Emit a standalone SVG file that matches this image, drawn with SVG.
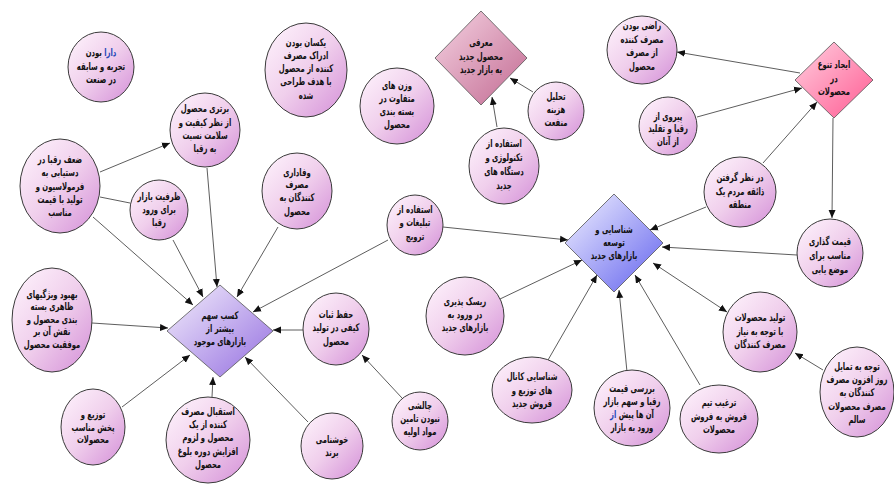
<svg xmlns="http://www.w3.org/2000/svg" width="894" height="484" viewBox="0 0 894 484">
<defs>
<linearGradient id="gc" x1="0" y1="0" x2="1" y2="1">
<stop offset="0" stop-color="#fff5fd"/><stop offset="0.5" stop-color="#f0cfec"/><stop offset="1" stop-color="#d48fd8"/>
</linearGradient>
<linearGradient id="gd5" x1="0" y1="0" x2="1" y2="1">
<stop offset="0" stop-color="#f5d3e2"/><stop offset="1" stop-color="#c26a92"/>
</linearGradient>
<linearGradient id="gd9" x1="0" y1="0" x2="1" y2="1">
<stop offset="0" stop-color="#ffd0e0"/><stop offset="1" stop-color="#ff5a92"/>
</linearGradient>
<linearGradient id="gd13" x1="0" y1="0" x2="1" y2="1">
<stop offset="0" stop-color="#f2f2ff"/><stop offset="1" stop-color="#6262ee"/>
</linearGradient>
<linearGradient id="gd30" x1="0" y1="0" x2="1" y2="1">
<stop offset="0" stop-color="#f4effc"/><stop offset="1" stop-color="#946ee0"/>
</linearGradient>
<marker id="ah" markerUnits="userSpaceOnUse" markerWidth="9" markerHeight="8" refX="8" refY="4" orient="auto-start-reverse">
<path d="M0,0.5 L8,4 L0,7.5 Z" fill="#111"/>
</marker>
</defs>
<style>
.n ellipse{stroke:#3a3a3a;stroke-width:1;fill:url(#gc)}
.d polygon{stroke:#555;stroke-width:0.8}
text{font-family:"DejaVu Sans",sans-serif;font-size:10.5px;font-weight:bold;fill:#111;text-anchor:middle;direction:rtl}
.c line{stroke:#333;stroke-width:0.8;marker-end:url(#ah)}
.c line.plain{marker-end:none}
.c line.both{marker-start:url(#ah)}
.bl{fill:#2848b8}
</style>
<rect width="894" height="484" fill="#fff"/>
<g id="connectors" class="c">
<line x1="93" y1="217" x2="193" y2="305"/>
<line x1="100" y1="172" x2="170" y2="143"/>
<line class="plain" x1="100" y1="197" x2="130" y2="203"/>
<line x1="173" y1="240" x2="203" y2="297"/>
<line x1="207" y1="168" x2="217" y2="287"/>
<line x1="278" y1="227" x2="237" y2="297"/>
<line x1="388" y1="240" x2="253" y2="312"/>
<line x1="443" y1="227" x2="568" y2="240"/>
<line x1="304" y1="330" x2="273" y2="330"/>
<line x1="402" y1="398" x2="362" y2="355"/>
<line x1="308" y1="422" x2="245" y2="357"/>
<line x1="212" y1="397" x2="213" y2="377"/>
<line x1="122" y1="407" x2="190" y2="355"/>
<line x1="92" y1="323" x2="168" y2="328"/>
<line x1="706" y1="207" x2="650" y2="230"/>
<line x1="797" y1="255" x2="662" y2="247"/>
<line class="both" x1="653" y1="263" x2="727" y2="312"/>
<line x1="823" y1="370" x2="795" y2="353"/>
<line x1="700" y1="385" x2="635" y2="275"/>
<line x1="627" y1="372" x2="619" y2="290"/>
<line x1="548" y1="360" x2="597" y2="275"/>
<line x1="500" y1="299" x2="582" y2="260"/>
<line x1="763" y1="163" x2="817" y2="102"/>
<line x1="833" y1="118" x2="832" y2="218"/>
<line x1="697" y1="117" x2="802" y2="88"/>
<line x1="800" y1="73" x2="677" y2="52"/>
<line x1="533" y1="92" x2="510" y2="78"/>
<line x1="497" y1="127" x2="492" y2="97"/>
</g>
<g id="n1" class="n"><ellipse cx="101" cy="67" rx="33" ry="35"/><g transform="matrix(0.65 0 0 1 35.35 0)">
<text x="101" y="56"><tspan class="bl">دارا</tspan> بودن</text><text x="101" y="70">تجربه و سابقه</text><text x="101" y="83">در صنعت</text></g></g>
<g id="n2" class="n"><ellipse cx="205" cy="130" rx="35" ry="37"/><g transform="matrix(0.65 0 0 1 71.75 0)">
<text x="205" y="112">برتری محصول</text><text x="205" y="126">از نظر کیفیت و</text><text x="205" y="139">سلامت نسبت</text><text x="205" y="152">به رقبا</text></g></g>
<g id="n3" class="n"><ellipse cx="306" cy="70" rx="41" ry="47"/><g transform="matrix(0.65 0 0 1 107.1 0)">
<text x="306" y="46">یکسان بودن</text><text x="306" y="59">ادراک مصرف</text><text x="306" y="72">کننده از محصول</text><text x="306" y="85">با هدف طراحی</text><text x="306" y="99">شده</text></g></g>
<g id="n4" class="n"><ellipse cx="397" cy="106" rx="37" ry="38"/><g transform="matrix(0.65 0 0 1 138.95 0)">
<text x="397" y="89">وزن های</text><text x="397" y="102">متفاوت در</text><text x="397" y="115">بسته بندی</text><text x="397" y="128">محصول</text></g></g>
<g id="n5" class="d"><polygon points="481,11 527,58 481,105 435,58" fill="url(#gd5)"/><g transform="matrix(0.65 0 0 1 168.35 0)">
<text x="481" y="46">معرفی</text><text x="481" y="60">محصول جدید</text><text x="481" y="73">به بازار جدید</text></g></g>
<g id="n6" class="n"><ellipse cx="556" cy="111" rx="28" ry="29"/><g transform="matrix(0.65 0 0 1 194.6 0)">
<text x="556" y="100">تحلیل</text><text x="556" y="113">هزینه</text><text x="556" y="126">منفعت</text></g></g>
<g id="n7" class="n"><ellipse cx="504" cy="166" rx="35" ry="38"/><g transform="matrix(0.65 0 0 1 176.4 0)">
<text x="504" y="147">استفاده از</text><text x="504" y="161">تکنولوژی و</text><text x="504" y="175">دستگاه های</text><text x="504" y="189">جدید</text></g></g>
<g id="n8" class="n"><ellipse cx="642" cy="50" rx="35" ry="34"/><g transform="matrix(0.65 0 0 1 224.7 0)">
<text x="642" y="29">راضی بودن</text><text x="642" y="43">مصرف کننده</text><text x="642" y="56">از مصرف</text><text x="642" y="70">محصول</text></g></g>
<g id="n9" class="d"><polygon points="834,42 873,80 834,118 795,80" fill="url(#gd9)"/><g transform="matrix(0.65 0 0 1 291.9 0)">
<text x="834" y="68">ایجاد تنوع</text><text x="834" y="82">در</text><text x="834" y="95">محصولات</text></g></g>
<g id="n10" class="n"><ellipse cx="668" cy="126" rx="29" ry="29"/><g transform="matrix(0.65 0 0 1 233.8 0)">
<text x="668" y="120">پیروی از</text><text x="668" y="132">رقبا و تقلید</text><text x="668" y="145">از آنان</text></g></g>
<g id="n11" class="n"><ellipse cx="740" cy="192" rx="36" ry="35"/><g transform="matrix(0.65 0 0 1 259 0)">
<text x="740" y="181">در نظر گرفتن</text><text x="740" y="195">ذائقه مردم یک</text><text x="740" y="208">منطقه</text></g></g>
<g id="n12" class="n"><ellipse cx="830" cy="253" rx="33" ry="34"/><g transform="matrix(0.65 0 0 1 290.5 0)">
<text x="830" y="245">قیمت گذاری</text><text x="830" y="259">مناسب برای</text><text x="830" y="273">موضع یابی</text></g></g>
<g id="n13" class="d"><polygon points="614,194 663,243 614,292 565,243" fill="url(#gd13)"/><g transform="matrix(0.65 0 0 1 214.9 0)">
<text x="614" y="233">شناسایی و</text><text x="614" y="246">توسعه</text><text x="614" y="259">بازارهای جدید</text></g></g>
<g id="n14" class="n"><ellipse cx="760" cy="332" rx="37" ry="40"/><g transform="matrix(0.65 0 0 1 266 0)">
<text x="760" y="321">تولید محصولات</text><text x="760" y="335">با توجه به نیاز</text><text x="760" y="348">مصرف کنندگان</text></g></g>
<g id="n15" class="n"><ellipse cx="857" cy="392" rx="37" ry="45"/><g transform="matrix(0.65 0 0 1 299.95 0)">
<text x="857" y="370">توجه به تمایل</text><text x="857" y="383">روز افزون مصرف</text><text x="857" y="396">کنندگان به</text><text x="857" y="410">مصرف محصولات</text><text x="857" y="423">سالم</text></g></g>
<g id="n16" class="n"><ellipse cx="719" cy="419" rx="39" ry="34"/><g transform="matrix(0.65 0 0 1 251.65 0)">
<text x="719" y="406">ترغیب تیم</text><text x="719" y="420">فروش به فروش</text><text x="719" y="433">محصولات</text></g></g>
<g id="n17" class="n"><ellipse cx="632" cy="408" rx="38" ry="38"/><g transform="matrix(0.65 0 0 1 221.2 0)">
<text x="632" y="392">بررسی قیمت</text><text x="632" y="405">رقبا و سهم بازار</text><text x="632" y="418">آن ها پیش <tspan class="bl">از</tspan></text><text x="632" y="431">ورود به بازار</text></g></g>
<g id="n18" class="n"><ellipse cx="532" cy="390" rx="40" ry="33"/><g transform="matrix(0.65 0 0 1 186.2 0)">
<text x="532" y="380">شناسایی کانال</text><text x="532" y="394">های توزیع و</text><text x="532" y="407">فروش جدید</text></g></g>
<g id="n19" class="n"><ellipse cx="465" cy="316" rx="39" ry="39"/><g transform="matrix(0.65 0 0 1 162.75 0)">
<text x="465" y="305">ریسک پذیری</text><text x="465" y="318">در ورود به</text><text x="465" y="331">بازارهای جدید</text></g></g>
<g id="n20" class="n"><ellipse cx="415" cy="225" rx="28" ry="30"/><g transform="matrix(0.65 0 0 1 145.25 0)">
<text x="415" y="213">استفاده از</text><text x="415" y="226">تبلیغات و</text><text x="415" y="240">ترویج</text></g></g>
<g id="n21" class="n"><ellipse cx="297" cy="191" rx="35" ry="38"/><g transform="matrix(0.65 0 0 1 103.95 0)">
<text x="297" y="176">وفاداری</text><text x="297" y="188">مصرف</text><text x="297" y="201">کنندگان به</text><text x="297" y="215">محصول</text></g></g>
<g id="n22" class="n"><ellipse cx="336" cy="329" rx="33" ry="36"/><g transform="matrix(0.65 0 0 1 117.6 0)">
<text x="336" y="318">حفظ ثبات</text><text x="336" y="331">کیفی در تولید</text><text x="336" y="345">محصول</text></g></g>
<g id="n23" class="n"><ellipse cx="420" cy="421" rx="28" ry="29"/><g transform="matrix(0.65 0 0 1 147 0)">
<text x="420" y="409">چالشی</text><text x="420" y="422">نبودن تامین</text><text x="420" y="435">مواد اولیه</text></g></g>
<g id="n24" class="n"><ellipse cx="332" cy="446" rx="31" ry="33"/><g transform="matrix(0.65 0 0 1 116.2 0)">
<text x="332" y="443">خوشنامی</text><text x="332" y="456">برند</text></g></g>
<g id="n25" class="n"><ellipse cx="208" cy="440" rx="42" ry="43"/><g transform="matrix(0.65 0 0 1 72.8 0)">
<text x="208" y="415">استقبال مصرف</text><text x="208" y="428">کننده از یک</text><text x="208" y="441">محصول و لزوم</text><text x="208" y="455">افزایش دوره بلوغ</text><text x="208" y="468">محصول</text></g></g>
<g id="n26" class="n"><ellipse cx="93" cy="427" rx="32" ry="38"/><g transform="matrix(0.65 0 0 1 32.55 0)">
<text x="93" y="418">توزیع و</text><text x="93" y="431">پخش مناسب</text><text x="93" y="443">محصولات</text></g></g>
<g id="n27" class="n"><ellipse cx="52" cy="320" rx="40" ry="52"/><g transform="matrix(0.65 0 0 1 18.2 0)">
<text x="52" y="298">بهبود ویژگیهای</text><text x="52" y="310">ظاهری بسته</text><text x="52" y="323">بندی محصول و</text><text x="52" y="335">نقش آن بر</text><text x="52" y="348">موفقیت محصول</text></g></g>
<g id="n28" class="n"><ellipse cx="60" cy="186" rx="40" ry="47"/><g transform="matrix(0.65 0 0 1 21 0)">
<text x="60" y="163">ضعف رقبا در</text><text x="60" y="176">دستیابی به</text><text x="60" y="190">فرمولاسیون و</text><text x="60" y="203">تولید با قیمت</text><text x="60" y="216">مناسب</text></g></g>
<g id="n29" class="n"><ellipse cx="159" cy="210" rx="29" ry="30"/><g transform="matrix(0.65 0 0 1 55.65 0)">
<text x="159" y="200">ظرفیت بازار</text><text x="159" y="213">برای ورود</text><text x="159" y="226">رقبا</text></g></g>
<g id="n30" class="d"><polygon points="220,285 273,331 220,377 167,331" fill="url(#gd30)"/><g transform="matrix(0.65 0 0 1 77 0)">
<text x="220" y="319">کسب سهم</text><text x="220" y="332">بیشتر از</text><text x="220" y="345">بازارهای موجود</text></g></g>
</svg>
